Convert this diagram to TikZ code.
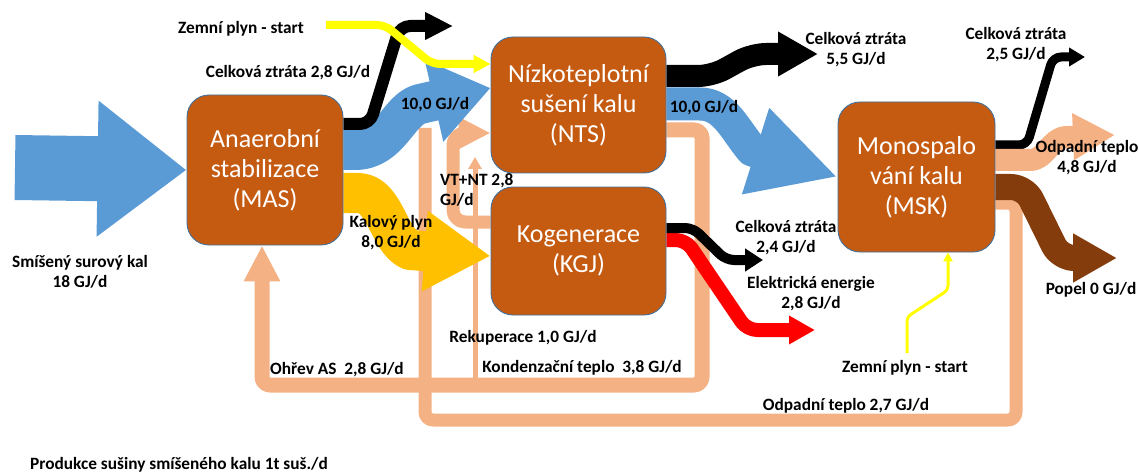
\documentclass[tikz,border=0pt]{standalone}
\usepackage{fontspec}
\setmainfont{Carlito}
\usetikzlibrary{arrows.meta,backgrounds}
\definecolor{boxfill}{HTML}{C55A11}
\definecolor{boxedge}{HTML}{41719C}
\definecolor{flowblue}{HTML}{5B9BD5}
\definecolor{heat}{HTML}{F4B183}
\definecolor{sludgegas}{HTML}{FFC000}
\definecolor{startgas}{HTML}{FFFF00}
\definecolor{ash}{HTML}{843C0C}
\definecolor{power}{HTML}{FF0000}
\tikzset{
  unit/.style={draw=boxedge, line width=0.9pt, fill=boxfill, rounded corners=22pt,
    text=white, font=\fontsize{26}{30}\selectfont, align=center, inner sep=0pt},
  lbl/.style={font=\bfseries\fontsize{17.3}{20}\selectfont, align=center, inner sep=0pt},
  band/.style={line cap=butt, line join=round}
}
\begin{document}
\begin{tikzpicture}[x=1pt,y=-1pt]
\useasboundingbox (0,0) rectangle (1139,473);
% process units
\node[unit, minimum width=156pt, minimum height=150pt] (mas) at (265,170) {Anaerobní\\stabilizace\\(MAS)};
\node[unit, minimum width=175pt, minimum height=136pt] (nts) at (578.5,105) {Nízkoteplotní\\sušení kalu\\(NTS)};
\node[unit, minimum width=175pt, minimum height=128pt] (kgj) at (578.5,251) {Kogenerace\\(KGJ)};
\node[unit, minimum width=157pt, minimum height=150pt] (msk) at (916.5,177) {Monospalo\\vání kalu\\(MSK)};
% free ends
\coordinate (rawin) at (15,167.5);
\coordinate (gastop) at (326,25);
\coordinate (lossmas) at (453,26);
\coordinate (lossnts) at (818,54);
\coordinate (losskgj) at (763,260);
\coordinate (elkgj) at (815,330);
\coordinate (lossmsk) at (1085,57);
\coordinate (wastemsk) at (1115,135);
\coordinate (ashmsk) at (1117,258);
\coordinate (gasbot) at (907,353);
\begin{scope}[on background layer]
  % heat loops
  \draw[band, heat, line width=13pt, rounded corners=8pt]
    (msk.east |- 0,203) -- (1016,203) -- (1016,420) -- (425,420) -- (425,128);
  \draw[band, heat, line width=15pt, rounded corners=8pt, -{Triangle[length=36pt,width=34pt]}]
    (nts.east |- 0,130) -- (702,130) -- (702,385) -- (262,385) -- (mas.south -| 262,0);
  \draw[band, heat, line width=5pt, -{Triangle[length=12pt,width=13pt]}]
    (475,385) -- (475,157);
  \draw[band, heat, line width=13pt, rounded corners=12pt, -{Triangle[length=32pt,width=30pt]}]
    (kgj.west |- 0,222) -- (453,222) -- (453,133) -- (nts.west |- 0,133);
  % sludge
  \draw[band, flowblue, line width=65pt, -{Triangle[length=89pt,width=130pt]}]
    (rawin) -- (mas.west);
  \draw[band, flowblue, line width=40pt, -{Triangle[length=58pt,width=80pt]}]
    (mas.east |- 0,150) -- (355,150) .. controls (390,150) and (398,110) .. (420,104) -- (nts.west |- 0,88);
  \draw[band, flowblue, line width=33pt, -{Triangle[length=86pt,width=84pt]}]
    (nts.east |- 0,104) -- (700,104) .. controls (725,104) and (735,130) .. (752,150) -- (msk.west |- 0,177);
  % biogas
  \draw[band, sludgegas, line width=40pt, -{Triangle[length=66pt,width=76pt]}]
    (mas.east |- 0,193) -- (358,193) .. controls (385,193) and (388,240) .. (410,250) -- (kgj.west |- 0,256);
  % losses and products
  \draw[band, black, line width=12pt, rounded corners=10pt, -{Triangle[length=28pt,width=26pt]}]
    (mas.east |- 0,124) -- (370,124) -- (400,26) -- (lossmas);
  \draw[band, startgas, line width=8pt, rounded corners=8pt, -{Triangle[length=17pt,width=17pt]}]
    (gastop) -- (385,25) -- (432,64) -- (nts.west |- 0,64);
  \draw[band, black, line width=22pt, rounded corners=14pt, -{Triangle[length=40pt,width=42pt]}]
    (nts.east |- 0,76) -- (712,76) -- (752,54) -- (lossnts);
  \draw[band, power, line width=14pt, rounded corners=10pt, -{Triangle[length=26pt,width=27pt]}]
    (kgj.east |- 0,240) -- (686,240) -- (747,330) -- (elkgj);
  \draw[band, black, line width=10pt, rounded corners=8pt, -{Triangle[length=18pt,width=22pt]}]
    (kgj.east |- 0,228) -- (693,228) -- (726,260) -- (losskgj);
  \draw[band, black, line width=9pt, rounded corners=8pt, -{Triangle[length=16pt,width=18pt]}]
    (msk.east |- 0,145) -- (1027,145) -- (1053,57) -- (lossmsk);
  \draw[band, heat, line width=22pt, -{Triangle[length=42pt,width=44pt]}]
    (msk.east |- 0,160) -- (1030,160) .. controls (1046,160) and (1050,138) .. (1066,137) -- (wastemsk);
  \draw[band, ash, line width=26pt, rounded corners=14pt, -{Triangle[length=44pt,width=46pt]}]
    (msk.east |- 0,187) -- (1025,187) -- (1060,258) -- (ashmsk);
  \draw[band, startgas, line width=3pt, rounded corners=4pt, -{Triangle[length=9pt,width=9pt]}]
    (gasbot) -- (907,317) -- (948,290) -- (msk.south -| 948,0);
\end{scope}
% labels
\node[lbl] (tgastop) at (241,29) {Zemní plyn - start};
\node[lbl] (tlossmas) at (288,73) {Celková ztráta 2,8 GJ/d};
\node[lbl] (tsludge1) at (435,105) {10,0 GJ/d};
\node[lbl] (tsludge2) at (704,108) {10,0 GJ/d};
\node[lbl] (tlossnts) at (856,50) {Celková ztráta\\5,5 GJ/d};
\node[lbl] (tlossmsk) at (1016,45) {Celková ztráta\\2,5 GJ/d};
\node[lbl] (twastemsk) at (1087,158) {Odpadní teplo\\4,8 GJ/d};
\node[lbl] (tash) at (1091,290) {Popel 0 GJ/d};
\node[lbl, anchor=west, align=left] (tvtnt) at (440,190) {VT+NT 2,8\\GJ/d};
\node[lbl] (tbiogas) at (391,233) {Kalový plyn\\8,0 GJ/d};
\node[lbl] (tlosskgj) at (786,238) {Celková ztráta\\2,4 GJ/d};
\node[lbl] (tel) at (811,294) {Elektrická energie\\2,8 GJ/d};
\node[lbl] (traw) at (80,272) {Smíšený surový kal\\18 GJ/d};
\node[lbl] (trek) at (523,338) {Rekuperace 1,0 GJ/d};
\node[lbl] (tcond) at (582,368) {Kondenzační teplo\ \ 3,8 GJ/d};
\node[lbl] (tohrev) at (337,370) {Ohřev AS\ \ 2,8 GJ/d};
\node[lbl] (tgasbot) at (905,368) {Zemní plyn - start};
\node[lbl] (twaste27) at (846,406) {Odpadní teplo 2,7 GJ/d};
\node[lbl] (tdry) at (179,465) {Produkce sušiny smíšeného kalu 1t suš./d};
\end{tikzpicture}
\end{document}
